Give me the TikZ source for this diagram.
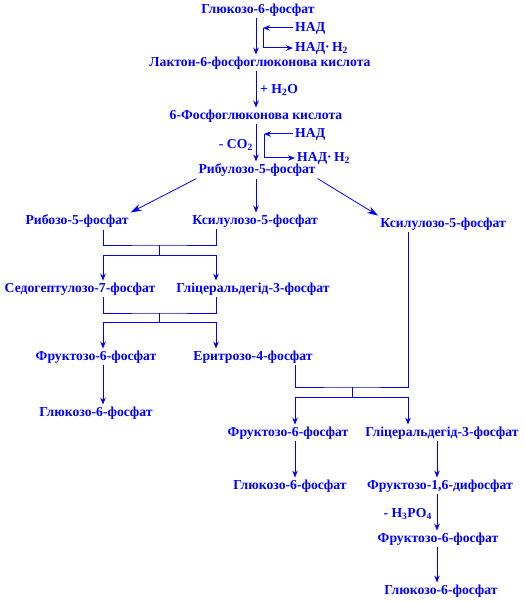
\documentclass[tikz,border=0pt]{standalone}
\usepackage{fontspec}
\setmainfont{Liberation Serif}
\usetikzlibrary{arrows.meta}
\definecolor{pathblue}{RGB}{0,0,255}
\begin{document}
\begin{tikzpicture}[x=1pt,y=-1pt,
  every node/.style={font=\fontsize{13.7}{15}\selectfont\bfseries,text=pathblue,inner sep=2pt},
  line/.style={draw=pathblue,line width=1pt},
  arr/.style={line,-{Stealth[length=7pt,width=5.5pt]}},
  bigarr/.style={draw=pathblue,line width=0.8pt,-{Stealth[length=11pt,width=7pt]}}]
\useasboundingbox (0,0) rectangle (524,601);
\foreach \n/\x in {c0/256,c1/103,c2/216,c3/295,c4/408,c5/437} \coordinate (\n) at (\x,0);
\node (g6p) at (258,10) {Глюкозо-6-фосфат};
\node[anchor=west] (nad1) at (293,28) {НАД};
\node[anchor=west] (nadh1) at (293,48) {НАД·\,Н\textsubscript{2}};
\node (lakt) at (260,63) {Лактон-6-фосфоглюконова кислота};
\node[anchor=west] (h2o) at (258,90) {+ H\textsubscript{2}O};
\node (fgk) at (256,116) {6-Фосфоглюконова кислота};
\node[anchor=east] (co2) at (255,145) {- CO\textsubscript{2}};
\node[anchor=west] (nad2) at (293,134) {НАД};
\node[anchor=west] (nadh2) at (295,158) {НАД·\,Н\textsubscript{2}};
\node (ribul) at (257,170) {Рибулозо-5-фосфат};
\node (riboz) at (77,221) {Рибозо-5-фосфат};
\node (xil1) at (255,221) {Ксилулозо-5-фосфат};
\node (xil2) at (443,224) {Ксилулозо-5-фосфат};
\node (sedo) at (80,289) {Седогептулозо-7-фосфат};
\node (glic1) at (253,289) {Гліцеральдегід-3-фосфат};
\node (fru1) at (96,357) {Фруктозо-6-фосфат};
\node (eri) at (253,357) {Еритрозо-4-фосфат};
\node (glu1) at (96,413) {Глюкозо-6-фосфат};
\node (fru2) at (288,433) {Фруктозо-6-фосфат};
\node (glic2) at (442,433) {Гліцеральдегід-3-фосфат};
\node (glu2) at (290,486) {Глюкозо-6-фосфат};
\node (fdp) at (440,486) {Фруктозо-1,6-дифосфат};
\node[anchor=east] (h3po4) at (434,514) {- H\textsubscript{3}PO\textsubscript{4}};
\node (fru3) at (438,539) {Фруктозо-6-фосфат};
\node (glu3) at (441,591) {Глюкозо-6-фосфат};
\coordinate (k1) at (263,28);
\coordinate (k2) at (264,134);
\coordinate (m1) at (159,245);
\coordinate (n1) at (159,255);
\coordinate (m2) at (159,313);
\coordinate (n2) at (159,322);
\coordinate (m3) at (352,387);
\coordinate (n3) at (352,397);
\draw[arr] (g6p.south -| c0) -- (lakt.north -| c0);
\draw[arr] (nad1.west) -- (k1);
\draw[arr] (k1) |- (nadh1.west);
\draw[arr] (lakt.south -| c0) -- (fgk.north -| c0);
\draw[arr] (fgk.south -| c0) -- (ribul.north -| c0);
\draw[arr] (nad2.west) -- (k2);
\draw[arr] (k2) |- (nadh2.west);
\draw[bigarr] (ribul.south west) -- (riboz.north east);
\draw[arr] (ribul.south -| c0) -- (xil1.north -| c0);
\draw[bigarr] (ribul.south east) -- (xil2.north west);
\draw[line] (riboz.south -| c1) |- (m1) -| (xil1.south -| c2);
\draw[line] (m1) -- (n1);
\draw[arr] (n1) -| (sedo.north -| c1);
\draw[arr] (n1) -| (glic1.north -| c2);
\draw[line] (sedo.south -| c1) |- (m2) -| (glic1.south -| c2);
\draw[line] (m2) -- (n2);
\draw[arr] (n2) -| (fru1.north -| c1);
\draw[arr] (n2) -| (eri.north -| c2);
\draw[arr] (fru1.south -| c1) -- (glu1.north -| c1);
\draw[line] (eri.south -| c3) |- (m3) -| (xil2.south -| c4);
\draw[line] (m3) -- (n3);
\draw[arr] (n3) -| (fru2.north -| c3);
\draw[arr] (n3) -| (glic2.north -| c4);
\draw[arr] (fru2.south -| c3) -- (glu2.north -| c3);
\draw[arr] (glic2.south -| c5) -- (fdp.north -| c5);
\draw[arr] (fdp.south -| c5) -- (fru3.north -| c5);
\draw[arr] (fru3.south -| c5) -- (glu3.north -| c5);
\end{tikzpicture}
\end{document}
